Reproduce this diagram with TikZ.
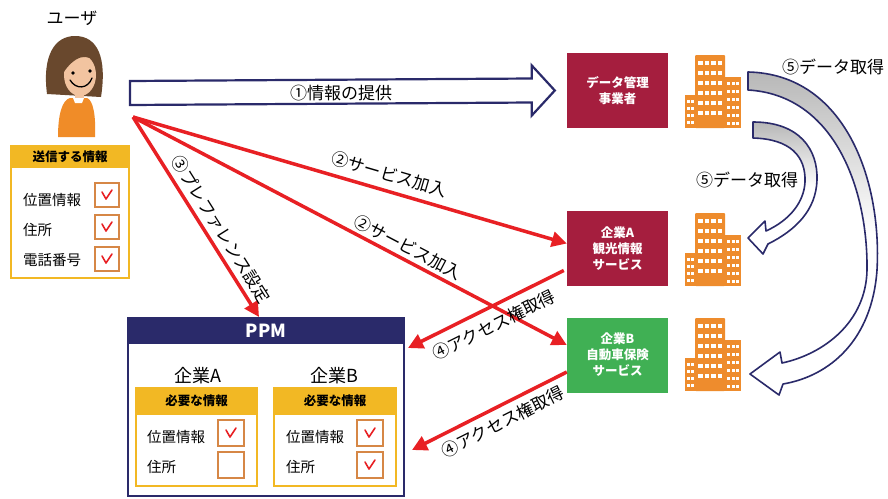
\documentclass[tikz,border=0pt]{standalone}
\usepackage{fontspec}
\setmainfont{Noto Sans CJK JP}
\usetikzlibrary{arrows.meta,positioning,calc}
\definecolor{datacol}{RGB}{165,30,62}
\definecolor{svccol}{RGB}{64,176,84}
\definecolor{navycol}{RGB}{42,42,106}
\definecolor{goldcol}{RGB}{242,184,36}
\definecolor{bldcol}{RGB}{238,140,45}
\definecolor{chkcol}{RGB}{214,135,70}
\definecolor{redcol}{RGB}{232,32,36}
\definecolor{haircol}{RGB}{105,72,45}
\definecolor{skincol}{RGB}{242,196,160}
\definecolor{shirtcol}{RGB}{240,140,40}
\tikzset{
  redarrow/.style={-{Triangle[length=15pt,width=15pt]},line width=3.5pt,draw=redcol},
  infoarrow/.style={draw=navycol,line width=2.2pt,fill=white,line join=miter},
  fetcharrow/.style={draw=navycol,line width=1.6pt,top color=black!28,bottom color=white,
    middle color=white,line join=round},
  lbl/.style={font=\fontsize{17}{20}\selectfont,inner sep=2pt},
  company/.style={minimum width=101pt,minimum height=75pt,align=center,text=white,
    inner sep=0pt,font=\fontsize{12.5}{16}\selectfont\bfseries},
  infobox/.style={draw=goldcol,line width=2pt,fill=white,anchor=north west,inner sep=0pt},
  infohead/.style={fill=goldcol,anchor=north,inner sep=0pt,
    font=\fontsize{12.5}{14}\selectfont\bfseries},
  item/.style={anchor=west,inner sep=0pt,font=\fontsize{14.5}{17}\selectfont},
  chkbox/.style={draw=chkcol,line width=1.8pt,minimum size=24pt,inner sep=0pt},
  firm/.style={font=\fontsize{18}{21}\selectfont,inner sep=0pt},
  tick/.pic={\draw[redcol,line width=1.6pt,line cap=round,line join=round]
    (-5,-3) -- (-1,4) -- (5,-5);},
  building/.pic={
    \fill[bldcol,rounded corners=1pt] (10,0) rectangle (40,73);
    \fill[bldcol] (39,22) rectangle (56,73);
    \fill[bldcol] (0,40) rectangle (12,73);
    \foreach \r in {0,...,5}
      \foreach \c in {0,...,3}
        \fill[white] (13+6.5*\c,6+10*\r) rectangle ++(4.5,3.5);
    \foreach \r in {0,...,5}
      \foreach \c in {0,...,2}
        \fill[white] (42+4.5*\c,27+8*\r) rectangle ++(3,2.5);
    \foreach \r in {0,...,3}
      \foreach \c in {0,1}
        \fill[white] (2+4*\c,45+7*\r) rectangle ++(3,2.5);
  }
}

\begin{document}
\begin{tikzpicture}[x=1pt,y=-1pt]
  \useasboundingbox (0,0) rectangle (888,498);
  \fill[white] (0,0) rectangle (888,498);

  % user
  \node[lbl] (user) at (72,18) {ユーザ};
  \fill[haircol] (47,94) .. controls (42,55) and (55,36) .. (75,36)
    .. controls (98,36) and (107,58) .. (101,97) -- cycle;
  \fill[skincol] (80,75) ellipse [x radius=16,y radius=21];
  \fill[haircol] (61,76) .. controls (58,50) and (76,40) .. (90,44)
    .. controls (97,48) and (100,56) .. (98,65) .. controls (88,52) and (75,54) .. cycle;
  \fill[black] (73,73) circle (1.8) (90,71) circle (1.8);
  \draw[black,line width=1.3pt,line cap=round] (70,80) .. controls (76,90) and (88,89) .. (92,78);
  \fill[skincol] (75,94) rectangle (84,100);
  \fill[shirtcol] (58,137) .. controls (58,115) and (62,100) .. (70,98) -- (87,98)
    .. controls (93,100) and (96,115) .. (95,137) -- cycle;
  \fill[white] (73,98) -- (84,98) -- (82,103) -- (75,103) -- cycle;
  \coordinate (u0) at (133,117);
  \coordinate (u1) at (130,93);

  % what the user sends
  \node[infobox,minimum width=118pt,minimum height=132pt] (send) at (10,145) {};
  \node[infohead,minimum width=118pt,minimum height=23pt] (sendhead) at (send.north) {送信する情報};
  \node[item] (s1) at (23,200) {位置情報};
  \node[item] (s2) at (23,230) {住所};
  \node[item] (s3) at (23,260) {電話番号};
  \node[chkbox] (c1) at (107,195) {};
  \node[chkbox] (c2) at (107,227) {};
  \node[chkbox] (c3) at (107,259) {};
  \pic at (c1) {tick};
  \pic at (c2) {tick};
  \pic at (c3) {tick};

  % services
  \node[company,fill=datacol] (dm) at (617.5,90.5) {データ管理\\事業者};
  \node[company,fill=datacol] (kA) at (617.5,248.5) {企業A\\観光情報\\サービス};
  \node[company,fill=svccol] (kB) at (617.5,355) {企業B\\自動車保険\\サービス};
  \pic at (685,55) {building};
  \pic at (685,213) {building};
  \pic at (685,318) {building};

  % PPM
  \node[draw=navycol,line width=2pt,fill=white,anchor=north west,inner sep=0pt,
    minimum width=276pt,minimum height=178pt] (ppm) at (127,317) {};
  \node[fill=navycol,text=white,anchor=north,inner sep=0pt,minimum width=276pt,
    minimum height=27pt,font=\fontsize{18}{21}\selectfont\bfseries] (ppmhead) at (ppm.north) {PPM};
  \node[firm] (fa) at (198,376) {企業A};
  \node[firm] (fb) at (334,376) {企業B};
  \node[infobox,minimum width=121pt,minimum height=98pt] (need a) at (135,387) {};
  \node[infohead,minimum width=121pt,minimum height=28pt] (needhead a) at (need a.north) {必要な情報};
  \node[infobox,minimum width=122pt,minimum height=98pt] (need b) at (273,387) {};
  \node[infohead,minimum width=122pt,minimum height=28pt] (needhead b) at (need b.north) {必要な情報};
  \node[item] (a1) at (147,437) {位置情報};
  \node[item] (a2) at (147,467) {住所};
  \node[item] (b1) at (286,437) {位置情報};
  \node[item] (b2) at (286,467) {住所};
  \node[chkbox,minimum size=26pt] (ca1) at (231,433) {};
  \node[chkbox,minimum size=26pt] (ca2) at (231,465) {};
  \node[chkbox,minimum size=26pt] (cb1) at (370,433) {};
  \node[chkbox,minimum size=26pt] (cb2) at (370,465) {};
  \pic at (ca1) {tick};
  \pic at (cb1) {tick};
  \pic at (cb2) {tick};

  % (1) information to the data holder
  \draw[infoarrow] ($(u1)+(0,-12)$) -- ($(dm.west)+(-35,-12)$) -- ($(dm.west)+(-35,-25)$)
    -- ($(dm.west)+(-12,0)$) -- ($(dm.west)+(-35,25)$) -- ($(dm.west)+(-35,12)$)
    -- ($(u1)+(0,12)$) -- cycle;
  \node[lbl] at (341,93) {①情報の提供};

  % red arrows
  \draw[redarrow] (u0) -- ($(ppm.north)+(-7,0)$)
    node[lbl,pos=0.6,sloped,above=3pt] {③プレファレンス設定};
  \draw[redarrow] (u0) -- ($(kA.west)+(0,-5)$)
    node[lbl,pos=0.58,sloped,above=5pt] {②サービス加入};
  \draw[redarrow] (u0) -- ($(kB.west)+(0,-10)$)
    node[lbl,pos=0.62,sloped,above=1pt] {②サービス加入};
  \draw[redarrow] ($(kA.west)+(-3,22)$) -- ($(ppm.north east)+(3,31)$)
    node[lbl,pos=0.5,sloped,below=6pt] {④アクセス権取得};
  \draw[redarrow] ($(kB.west)+(0,17)$) -- ($(ppm.north east)+(7,133)$)
    node[lbl,pos=0.46,sloped,below=4pt] {④アクセス権取得};

  % (5) data fetched from the holder
  \draw[fetcharrow] (748,72) .. controls (845,74) and (882,180) .. (877,270)
    .. controls (872,340) and (830,376) .. (783,384) -- (779,395) -- (750,374)
    -- (780,352) -- (782,363) .. controls (824,354) and (866,322) .. (867,270)
    .. controls (868,190) and (835,95) .. (748,90) -- cycle;
  \draw[fetcharrow] (753,122) .. controls (800,122) and (818,150) .. (817,180)
    .. controls (816,210) and (796,230) .. (768,244) -- (763,254) -- (748,238)
    -- (765,221) -- (766,231) .. controls (790,220) and (804,202) .. (805,182)
    .. controls (806,156) and (790,139) .. (753,138) -- cycle;
  \node[lbl] (f1) at (833,67) {⑤データ取得};
  \node[lbl] (f2) at (747,180) {⑤データ取得};
\end{tikzpicture}
\end{document}
